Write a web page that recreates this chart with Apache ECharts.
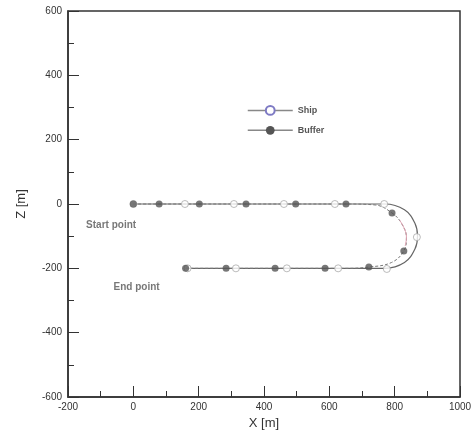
<!DOCTYPE html>
<html><head><meta charset="utf-8">
<script src="https://cdn.jsdelivr.net/npm/echarts@6/dist/echarts.min.js"></script>
<style>html,body{margin:0;padding:0;background:#fff}#c{width:475px;height:438px}</style>
</head><body><div id="c"></div>
<script>
// Paths
const shipPath = [[0,0],[700,0],[770,0],[830,-18],[862,-60],[870,-100],[862,-140],[830,-182],[770,-200],[700,-200],[160,-200]];
const bufferPath = [[0,0],[650,0],[740,-3],[792,-28],[822,-62],[836,-104],[828,-146],[790,-182],[721,-196],[650,-200],[155,-200]];
const bufferPinkPath = [[815,-50],[830,-78],[836,-104],[832,-130]];
// Markers
const shipPoints = [[0,0],[158,0],[308,0],[461,0],[617,0],[768,0],[868,-103],[776,-202],[627,-200],[470,-200],[314,-200],[166,-200]];
const bufferPoints = [[0,0],[79,0],[202,0],[345,0],[497,0],[651,0],[792,-28],[828,-146],[721,-196],[587,-200],[434,-200],[284,-200],[160,-200]];
// Annotations
const annotations = [{name:'Start point', value:[-68,-66]},{name:'End point', value:[10,-258]}];
const xTicks = [-200,0,200,400,600,800,1000];
const yTicks = [-600,-400,-200,0,200,400,600];

const chart = echarts.init(document.getElementById('c'));
const font = 'Liberation Sans, Arial, sans-serif';
chart.setOption({
  animation:false,
  grid:{left:68,right:15,top:11,bottom:41,show:true,borderColor:'#333',borderWidth:1.5},
  legend:{orient:'vertical',left:242,top:100,itemWidth:45,itemHeight:11,itemGap:10,
    data:[
      {name:'Ship',itemStyle:{color:'#7e7ac4',borderColor:'#7e7ac4',borderWidth:1.2},
        lineStyle:{color:'#888',width:1.5,type:'solid'}},
      {name:'Buffer',itemStyle:{color:'#555',borderWidth:0},
        lineStyle:{color:'#888',width:1.5,type:'solid'}}],
    textStyle:{fontFamily:font,fontSize:9,fontWeight:'bold',color:'#555'}},
  xAxis:{type:'value',min:xTicks[0],max:xTicks[xTicks.length-1],interval:200,
    name:'X [m]',nameLocation:'middle',nameGap:20,
    nameTextStyle:{fontFamily:font,fontSize:13,color:'#333'},
    axisLine:{onZero:false,lineStyle:{color:'#333',width:1.5}},
    axisTick:{inside:true,length:11,lineStyle:{color:'#333'}},
    minorTick:{show:true,splitNumber:2,length:6,lineStyle:{color:'#333'}},
    splitLine:{show:false},
    axisLabel:{fontFamily:font,fontSize:10,color:'#333',margin:5,formatter:v=>String(v)}},
  yAxis:{type:'value',min:yTicks[0],max:yTicks[yTicks.length-1],interval:200,
    name:'Z [m]',nameLocation:'middle',nameGap:40,nameRotate:90,
    nameTextStyle:{fontFamily:font,fontSize:13,color:'#333'},
    axisLine:{onZero:false,lineStyle:{color:'#333',width:1.5}},
    axisTick:{inside:true,length:11,lineStyle:{color:'#333'}},
    minorTick:{show:true,splitNumber:2,length:6,lineStyle:{color:'#333'}},
    splitLine:{show:false},
    axisLabel:{fontFamily:font,fontSize:10,color:'#333',margin:6,formatter:v=>String(v)}},
  series:[
    {name:'Ship',type:'line',data:shipPath,smooth:0.4,showSymbol:false,symbol:'emptyCircle',symbolSize:9,
      itemStyle:{color:'#7e7ac4'},
      lineStyle:{color:'#666',width:1.2},z:2},
    {name:'Buffer',type:'line',data:bufferPath,smooth:0.4,showSymbol:false,symbol:'circle',symbolSize:10,
      itemStyle:{color:'#555'},
      lineStyle:{color:'#777',width:1,type:[3,2]},z:2},
    {name:'pink',type:'line',data:bufferPinkPath,smooth:0.5,showSymbol:false,
      lineStyle:{color:'#e0a0b0',width:1},z:3},
    {name:'shipPts',type:'scatter',data:shipPoints,symbol:'circle',symbolSize:7,
      itemStyle:{color:'#fff',borderColor:'#aaa',borderWidth:1},z:4},
    {name:'bufferPts',type:'scatter',data:bufferPoints,symbol:'circle',symbolSize:7,
      itemStyle:{color:'#555'},z:5},
    {name:'notes',type:'scatter',data:annotations,symbolSize:0,
      label:{show:true,position:'inside',formatter:p=>p.name,fontFamily:font,fontSize:10,fontWeight:'bold',color:'#555'},z:6}
  ]
});
</script></body></html>
